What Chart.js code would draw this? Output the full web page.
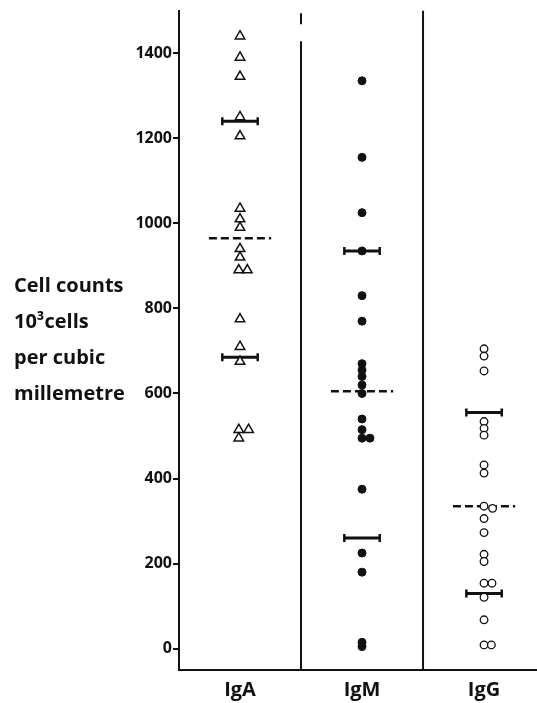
<!DOCTYPE html>
<html>
<head>
<meta charset="utf-8">
<script src="https://cdn.jsdelivr.net/npm/chart.js@4.4.1/dist/chart.umd.min.js"></script>
<style>
  html, body { margin: 0; padding: 0; background: #fff; overflow: hidden; }
  canvas { display: block; }
</style>
</head>
<body>
<canvas id="chart" width="537" height="703"></canvas>
<script>
const categories = ['IgA', 'IgM', 'IgG'];
const yTicks = [0, 200, 400, 600, 800, 1000, 1200, 1400];
const yTitle = ['Cell counts', '10³cells', 'per cubic', 'millemetre'];

// individual counts (shift = small sideways nudge where points sit side by side)
const igaValues = [1440, 1390, 1345, 1250, 1205, 1035, 1010, 990, 940, 920, 890, 890, 775, 710, 675, 515, 515, 495];
const igaShift  = [0, 0, 0, 0, 0, 0, 0, 0, 0, 0, -0.01, 0.06, 0, 0, 0, -0.01, 0.07, -0.01];
const igmValues = [1335, 1155, 1025, 935, 830, 770, 670, 655, 640, 620, 600, 540, 515, 495, 495, 375, 225, 180, 15, 5];
const igmShift  = [0, 0, 0, 0, 0, 0, 0, 0, 0, 0, 0, 0, 0, 0, 0.065, 0, 0, 0, 0, 0];
const iggValues = [705, 688, 653, 534, 518, 502, 432, 413, 335, 330, 306, 273, 222, 205, 154, 154, 121, 68, 9, 9];
const iggShift  = [0, 0, 0, 0, 0, 0, 0, 0, 0, 0.07, 0, 0, 0, 0, 0, 0.065, 0, 0, 0, 0.06];

// mean (dashed) and mean +/- SD bars
const meanValues = [965, 605, 335];
const upperBars = [1240, 935, 555];
const lowerBars = [685, 260, 130];

const toPoints = (vals, shift, idx) => vals.map((v, i) => ({ x: idx + 1 + shift[i], y: v }));

const datasets = [
    {
        data: toPoints(igaValues, igaShift, 0),
        pointStyle: 'triangle',
        pointRadius: 5.5,
        pointBorderWidth: 1.5,
        pointBorderColor: '#111',
        pointBackgroundColor: '#fff'
    },
    {
        data: toPoints(igmValues, igmShift, 1),
        pointStyle: 'circle',
        pointRadius: 4,
        pointBorderWidth: 1,
        pointBorderColor: '#111',
        pointBackgroundColor: '#111'
    },
    {
        data: toPoints(iggValues, iggShift, 2),
        pointStyle: 'circle',
        pointRadius: 3.8,
        pointBorderWidth: 1.3,
        pointBorderColor: '#111',
        pointBackgroundColor: '#fff'
    }
];

categories.forEach((c, i) => {
    [upperBars[i], lowerBars[i]].forEach(v => {
        datasets.push({
            data: [{ x: i + 1 - 0.145, y: v }, { x: i + 1 + 0.145, y: v }],
            showLine: true,
            borderColor: '#111',
            borderWidth: 3,
            pointStyle: 'line',
            pointRotation: 90,
            pointRadius: 4,
            pointBorderWidth: 2.5,
            pointBorderColor: '#111'
        });
    });
    datasets.push({
        data: [{ x: i + 1 - 0.255, y: meanValues[i] }, { x: i + 1 + 0.255, y: meanValues[i] }],
        showLine: true,
        borderColor: '#111',
        borderWidth: 2.5,
        borderDash: [8, 4],
        pointRadius: 0
    });
});

// column dividers (the first one has a break near the top)
const dividers = [
    [{ x: 1.5, y: -50 }, { x: 1.5, y: 1428 }],
    [{ x: 1.5, y: 1468 }, { x: 1.5, y: 1494 }],
    [{ x: 2.5, y: -50 }, { x: 2.5, y: 1500 }]
];
dividers.forEach(d => {
    datasets.push({ data: d, showLine: true, borderColor: '#111', borderWidth: 2, pointRadius: 0 });
});

const yTitlePlugin = {
    id: 'yTitle',
    afterDraw(chart) {
        const ctx = chart.ctx;
        ctx.save();
        ctx.font = 'bold 20px "Open Sans"';
        ctx.fillStyle = '#111';
        ctx.textAlign = 'left';
        ctx.textBaseline = 'middle';
        yTitle.forEach((t, i) => ctx.fillText(t, 14, 286 + i * 36));
        ctx.restore();
    }
};

new Chart(document.getElementById('chart'), {
    type: 'scatter',
    data: { datasets },
    plugins: [yTitlePlugin],
    options: {
        responsive: false,
        animation: false,
        layout: { autoPadding: false, padding: { top: 8, right: 0, bottom: 0, left: 0 } },
        plugins: {
            legend: { display: false },
            tooltip: { enabled: false }
        },
        scales: {
            x: {
                type: 'linear',
                min: 0.5,
                max: 3.434,
                afterBuildTicks: s => { s.ticks = categories.map((c, i) => ({ value: i + 1 })); },
                afterFit: s => {
                    s.height = 33;
                    s.paddingLeft = 0;
                    s.paddingRight = 0;
                },
                ticks: {
                    callback: v => categories[v - 1],
                    autoSkip: false,
                    maxRotation: 0,
                    padding: 8,
                    color: '#111',
                    font: { family: '"Open Sans"', size: 20, weight: 'bold' }
                },
                grid: { display: false, drawTicks: false },
                border: { display: true, color: '#111', width: 2 }
            },
            y: {
                min: -50,
                max: 1500,
                afterBuildTicks: s => { s.ticks = yTicks.map(v => ({ value: v })); },
                afterFit: s => { s.width = 179; },
                ticks: {
                    callback: v => String(v),
                    padding: 1,
                    color: '#111',
                    font: { family: '"Open Sans"', size: 16, weight: 'bold' }
                },
                grid: {
                    display: true,
                    drawOnChartArea: false,
                    drawTicks: true,
                    tickLength: 6,
                    lineWidth: 2,
                    color: '#111'
                },
                border: { display: true, color: '#111', width: 2 }
            }
        }
    }
});
</script>
</body>
</html>
